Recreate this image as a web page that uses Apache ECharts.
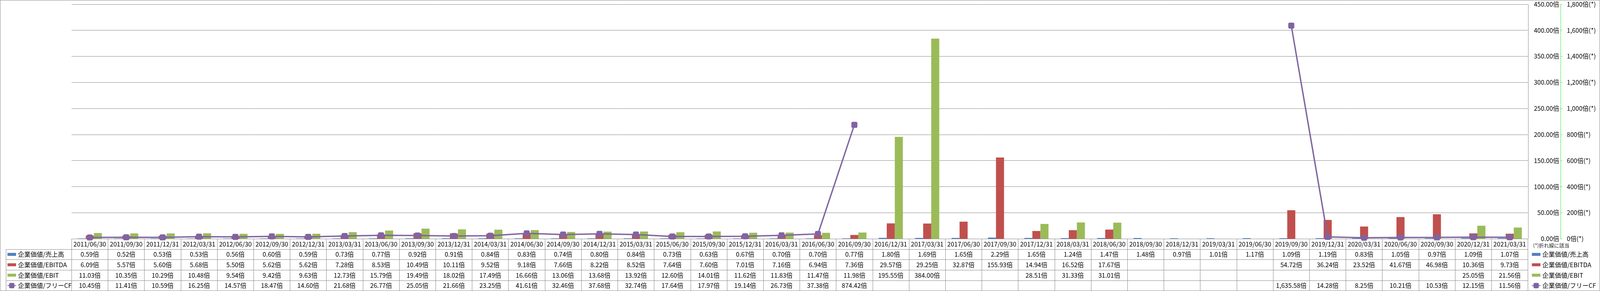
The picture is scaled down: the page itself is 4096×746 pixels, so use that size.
<!DOCTYPE html>
<html><head><meta charset="utf-8">
<script src="https://cdn.jsdelivr.net/npm/echarts@6/dist/echarts.min.js"></script>
<style>html,body{margin:0;padding:0;background:#fff;overflow:hidden}#c{width:4096px;height:746px}</style>
</head><body><div id="c"></div>
<script>
const categories = ['2011/06/30','2011/09/30','2011/12/31','2012/03/31','2012/06/30','2012/09/30','2012/12/31','2013/03/31','2013/06/30','2013/09/30','2013/12/31','2014/03/31','2014/06/30','2014/09/30','2014/12/31','2015/03/31','2015/06/30','2015/09/30','2015/12/31','2016/03/31','2016/06/30','2016/09/30','2016/12/31','2017/03/31','2017/06/30','2017/09/30','2017/12/31','2018/03/31','2018/06/30','2018/09/30','2018/12/31','2019/03/31','2019/06/30','2019/09/30','2019/12/31','2020/03/31','2020/06/30','2020/09/30','2020/12/31','2021/03/31'];
const salesMultiple = [0.59,0.52,0.53,0.53,0.56,0.60,0.59,0.73,0.77,0.92,0.91,0.84,0.83,0.74,0.80,0.84,0.73,0.63,0.67,0.70,0.70,0.77,1.80,1.69,1.65,2.29,1.65,1.24,1.47,1.48,0.97,1.01,1.17,1.09,1.19,0.83,1.05,0.97,1.09,1.07];
const ebitdaMultiple = [6.09,5.57,5.60,5.68,5.50,5.62,5.62,7.28,8.53,10.49,10.11,9.52,9.18,7.66,8.22,8.52,7.64,7.60,7.01,7.16,6.94,7.36,29.57,29.25,32.87,155.93,14.94,16.52,17.67,null,null,null,null,54.72,36.24,23.52,41.67,46.98,10.36,9.73];
const ebitMultiple = [11.03,10.35,10.29,10.48,9.54,9.42,9.63,12.73,15.79,19.49,18.02,17.49,16.66,13.06,13.68,13.92,12.60,14.01,11.62,11.83,11.47,11.98,195.55,384.00,null,null,28.51,31.33,31.01,null,null,null,null,null,null,null,null,null,25.05,21.56];
const fcfMultiple = [10.45,11.41,10.59,16.25,14.57,18.47,14.60,21.68,26.77,25.05,21.66,23.25,41.61,32.46,37.68,32.74,17.64,17.97,19.14,26.73,37.38,874.42,null,null,null,null,null,null,null,null,null,null,null,1635.58,14.28,8.25,10.21,10.53,12.15,11.56];
const seriesNames = ['企業価値/売上高','企業価値/EBITDA','企業価値/EBIT','企業価値/フリーCF'];
const colors = ['#4F81BD','#C0504D','#9BBB59','#8064A2'];
const leftAxis = {min:0, max:450, interval:50};
const rightAxis = {min:0, max:1800, interval:200};
const footnote = '(*)折れ線に該当';

const S = 0.696;
const W = 4096, H = 746;
const FONT = 'Noto Sans CJK JP';
const gLeft = 263.3*S, gRightX = 5620*S, gTop = 15.5*S, gBotY = 879.5*S;
const rowH = 38.3*S;
const tableBottom = gBotY + 5*rowH;
const cellLeft = 21.7*S;
const GRAY = '#888888';

function fmt(v){ return v==null ? ' ' : v.toLocaleString('en-US',{minimumFractionDigits:2,maximumFractionDigits:2})+'倍'; }

const chart = echarts.init(document.getElementById('c'), null, {renderer:'canvas'});

const barIcon = 'path://M0,0L32,0L32,11L0,11Z';
const legendData = seriesNames.map((n,i)=> i<3 ? {name:n, icon:barIcon} : {name:n});
function legendCfg(x){
  return {
    orient:'vertical', left:x, top: gBotY + rowH*1.5 - 8.5, padding:0,
    itemWidth:22, itemHeight:17, itemGap: rowH-17, selectedMode:false,
    textStyle:{fontFamily:FONT, fontSize:16, color:'#000', lineHeight:17},
    data: legendData
  };
}

const hLines = [];
for (let k=1;k<=5;k++){
  const y = Math.round(gBotY + k*rowH) + 0.5;
  hLines.push({type:'line', silent:true, shape:{x1:cellLeft, y1:y, x2:gRightX, y2:y}, style:{stroke:GRAY, lineWidth:1}});
}

const option = {
  animation:false,
  backgroundColor:'#fff',
  color: colors,
  textStyle:{fontFamily:FONT},
  grid:{left:gLeft, right:W-gRightX, top:gTop, bottom:H-gBotY},
  legend:[legendCfg(26*S), legendCfg(5633*S)],
  xAxis:{
    type:'category', data:categories, boundaryGap:true,
    axisLine:{show:true, lineStyle:{color:GRAY, width:1}},
    axisTick:{show:true, interval:0, length: tableBottom-gBotY, lineStyle:{color:GRAY, width:1}},
    axisLabel:{interval:0, margin:0, fontSize:16, lineHeight:rowH, color:'#000', fontFamily:FONT,
      formatter:(value, idx)=>[value, fmt(salesMultiple[idx]), fmt(ebitdaMultiple[idx]), fmt(ebitMultiple[idx]), fmt(fcfMultiple[idx])].join('\n')},
    splitLine:{show:false}
  },
  yAxis:[
    {type:'value', position:'right', offset:(5740-5620)*S, min:leftAxis.min, max:leftAxis.max, interval:leftAxis.interval,
      axisLine:{show:false}, axisTick:{show:false},
      axisLabel:{inside:true, margin:3.5, fontSize:16, color:'#000', fontFamily:FONT, formatter:v=>v.toFixed(2)+'倍'},
      splitLine:{show:true, lineStyle:{color:GRAY, width:1}}},
    {type:'value', position:'right', offset:(5740-5620)*S, min:rightAxis.min, max:rightAxis.max, interval:rightAxis.interval,
      axisLine:{show:true, lineStyle:{color:'#00E000', width:1, type:[3,2]}},
      axisTick:{show:true, length:6, inside:false, lineStyle:{color:'#00E000', width:1, type:[3,2]}},
      axisLabel:{margin:16, fontSize:16, color:'#000', fontFamily:FONT, formatter:v=>v.toLocaleString('en-US')+'倍(*)'},
      splitLine:{show:false}}
  ],
  series:[
    {name:seriesNames[0], type:'bar', yAxisIndex:0, data:salesMultiple, barGap:'0%', barCategoryGap:'33.6%', itemStyle:{color:colors[0]}},
    {name:seriesNames[1], type:'bar', yAxisIndex:0, data:ebitdaMultiple, barGap:'0%', barCategoryGap:'33.6%', itemStyle:{color:colors[1]}},
    {name:seriesNames[2], type:'bar', yAxisIndex:0, data:ebitMultiple, barGap:'0%', barCategoryGap:'33.6%', itemStyle:{color:colors[2]}},
    {name:seriesNames[3], type:'line', yAxisIndex:1, data:fcfMultiple, connectNulls:false, z:5,
      symbol:'roundRect', symbolSize:15.5, showAllSymbol:true,
      lineStyle:{color:colors[3], width:3.5}, itemStyle:{color:colors[3]}}
  ],
  graphic:[
    {type:'rect', silent:true, shape:{x:0.5, y:0.5, width:W-1, height:H-1}, style:{fill:null, stroke:GRAY, lineWidth:1}},
    {type:'line', silent:true, shape:{x1:Math.round(gRightX)+0.5, y1:gTop, x2:Math.round(gRightX)+0.5, y2:gBotY}, style:{stroke:GRAY, lineWidth:1}},
    {type:'line', silent:true, shape:{x1:Math.round(cellLeft)+0.5, y1:gBotY+rowH, x2:Math.round(cellLeft)+0.5, y2:tableBottom}, style:{stroke:GRAY, lineWidth:1}},
    ...hLines,
    {type:'text', silent:true, left:5639*S, top:906*S-8, style:{text:footnote, font:'13px "Noto Sans CJK JP"', fill:'#222'}}
  ]
};
chart.setOption(option);
</script>
</body></html>
